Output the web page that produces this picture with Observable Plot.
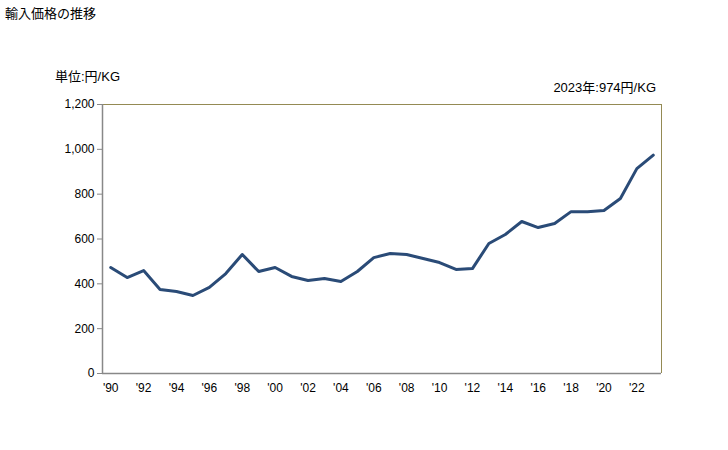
<!DOCTYPE html>
<html><head><meta charset="utf-8">
<script src="https://cdn.jsdelivr.net/npm/d3@7"></script>
<script src="https://cdn.jsdelivr.net/npm/@observablehq/plot@0.6"></script>
<style>
body{margin:0;background:#fff;font-family:"Liberation Sans","Noto Sans CJK JP",sans-serif;}
#wrap{position:relative;width:728px;height:450px;}
.t{position:absolute;font-size:13px;color:#000;white-space:nowrap;}
</style></head>
<body><div id="wrap">
<div class="t" style="left:5px;top:3px;">輸入価格の推移</div>
<div class="t" style="left:55px;top:66px;">単位:円/KG</div>
<div class="t" style="right:72px;top:77px;">2023年:974円/KG</div>
<div id="chart" style="position:absolute;left:0;top:0;"></div>
</div>
<script>
const years = d3.range(1990, 2024);
const values = [473,428,459,375,366,348,384,446,531,455,473,433,415,424,410,455,517,535,531,513,495,464,468,580,620,678,651,669,722,722,727,781,914,974];
const yTicks = [0,200,400,600,800,1000,1200];
const xTicks = d3.range(1990, 2023, 2);
const data = years.map((y,i)=>({year:y, value:values[i]}));
const x0=1989.5, x1=2023.5;
const chart = Plot.plot({
  width:728, height:450,
  marginLeft:102, marginRight:67, marginTop:104, marginBottom:77,
  style:{fontFamily:"'Liberation Sans','Noto Sans CJK JP',sans-serif", fontSize:"12px", background:"transparent"},
  x:{domain:[x0,x1]},
  y:{domain:[0,1200]},
  marks:[
    Plot.ruleY([1200],{stroke:"#948a54",strokeWidth:1}),
    Plot.ruleX([x1],{stroke:"#948a54",strokeWidth:1}),
    Plot.ruleY([0],{stroke:"#888",strokeWidth:1.5}),
    Plot.ruleX([x0],{stroke:"#888",strokeWidth:1.5}),
    Plot.axisY({ticks:yTicks, tickFormat:d3.format(","), tickSize:5, tickPadding:3, stroke:"#888", label:null, fill:"#000"}),
    Plot.axisX({ticks:xTicks, tickFormat:d=>"'"+String(d).slice(2), tickSize:0, tickPadding:10, label:null, fill:"#000"}),
    Plot.line(data,{x:"year",y:"value",stroke:"#2a4b77",strokeWidth:3,strokeLinejoin:"round"})
  ]
});
document.getElementById("chart").appendChild(chart);
</script>
</body></html>
